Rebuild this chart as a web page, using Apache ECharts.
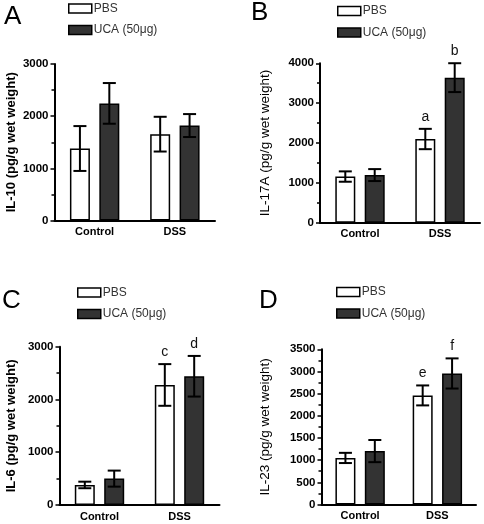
<!DOCTYPE html>
<html>
<head>
<meta charset="utf-8">
<script src="https://cdn.jsdelivr.net/npm/echarts@6/dist/echarts.min.js"></script>
<style>
html,body{margin:0;padding:0;background:#fff;}
#chart{width:484px;height:524px;}
</style>
</head>
<body>
<div id="chart"></div>
<script>
// ---- Data ----
const categories = ['Control', 'DSS'];
const seriesNames = ['PBS', 'UCA (50μg)'];

// Panel A: IL-10
const aPbs = [1380, 1655];
const aPbsErr = [430, 333];
const aUca = [2245, 1820];
const aUcaErr = [390, 220];
const aLettersPbs = ['', ''];
const aLettersUca = ['', ''];

// Panel B: IL-17A
const bPbs = [1158, 2100];
const bPbsErr = [130, 255];
const bUca = [1195, 3640];
const bUcaErr = [150, 362];
const bLettersPbs = ['', 'a'];
const bLettersUca = ['', 'b'];

// Panel C: IL-6
const cPbs = [380, 2275];
const cPbsErr = [62, 395];
const cUca = [500, 2440];
const cUcaErr = [152, 385];
const cLettersPbs = ['', 'c'];
const cLettersUca = ['', 'd'];

// Panel D: IL-23
const dPbs = [1050, 2460];
const dPbsErr = [115, 225];
const dUca = [1205, 2955];
const dUcaErr = [250, 340];
const dLettersPbs = ['', 'e'];
const dLettersUca = ['', 'f'];

// Axis ranges / tick steps
const yMax = [3000, 4000, 3000, 3500];
const yStep = [1000, 1000, 1000, 500];
const yTitles = ['IL-10 (pg/g wet weight)', 'IL-17A (pg/g wet weight)', 'IL-6 (pg/g wet weight)', 'IL-23 (pg/g wet weight)'];
const panelLabels = ['A', 'B', 'C', 'D'];

// ---- Layout ----
const FONT = 'Liberation Sans, Arial, Helvetica, sans-serif';
const grids = [
  {left: 54.5, top: 64, width: 160.5, height: 156.5},
  {left: 320, top: 63.3, width: 160, height: 159.4},
  {left: 59.5, top: 346.7, width: 160, height: 158.3},
  {left: 321.5, top: 349.3, width: 154.5, height: 155.2}
];
const titleBold = [true, false, true, false];
const titleSize = [13, 13.5, 13, 13.5];
const titleGap = [37, 48, 42, 49];
const legendPos = [
  {left: 68, top: 2.5},
  {left: 337, top: 5},
  {left: 77, top: 286.5},
  {left: 336, top: 286}
];
const letterPos = [
  {x: 4, y: 15}, {x: 251, y: 11}, {x: 2, y: 299}, {x: 259, y: 298.5}
];

const panels = [
  [aPbs, aPbsErr, aUca, aUcaErr, aLettersPbs, aLettersUca],
  [bPbs, bPbsErr, bUca, bUcaErr, bLettersPbs, bLettersUca],
  [cPbs, cPbsErr, cUca, cUcaErr, cLettersPbs, cLettersUca],
  [dPbs, dPbsErr, dUca, dUcaErr, dLettersPbs, dLettersUca]
];

const BAR_W = 20;
const BAR_GAP = 0.47; // fraction of bar width
const OFFSET = (BAR_W + BAR_W * BAR_GAP) / 2;
const CAP = 13;

function errorRender(params, api) {
  const c = api.value(0), m = api.value(1), e = api.value(2), g = api.value(3);
  const top = api.coord([c, m + e]);
  const bot = api.coord([c, m - e]);
  const x = top[0] + (g === 0 ? -OFFSET : OFFSET);
  const st = {stroke: '#000', lineWidth: 2};
  return {
    type: 'group',
    children: [
      {type: 'line', shape: {x1: x, y1: top[1], x2: x, y2: bot[1]}, style: st},
      {type: 'line', shape: {x1: x - CAP / 2, y1: top[1], x2: x + CAP / 2, y2: top[1]}, style: st},
      {type: 'line', shape: {x1: x - CAP / 2, y1: bot[1], x2: x + CAP / 2, y2: bot[1]}, style: st}
    ]
  };
}

const letterTexts = {};
function letterRender(params, api) {
  const c = api.value(0), m = api.value(1), e = api.value(2), g = api.value(3);
  const top = api.coord([c, m + e]);
  const x = top[0] + (g === 0 ? -OFFSET : OFFSET);
  return {
    type: 'text',
    style: {
      text: letterTexts[params.seriesIndex][params.dataIndex],
      x: x, y: top[1] - 12,
      textAlign: 'center', textVerticalAlign: 'middle',
      font: '14px ' + FONT, fill: '#111'
    }
  };
}

const option = {
  backgroundColor: '#fff',
  animation: false,
  grid: grids.map(g => Object.assign({containLabel: false}, g)),
  legend: [],
  xAxis: [],
  yAxis: [],
  series: [],
  graphic: []
};

panels.forEach((p, i) => {
  const [pbs, pbsErr, uca, ucaErr, lp, lu] = p;
  option.xAxis.push({
    type: 'category', gridIndex: i, data: categories,
    axisLine: {show: true, lineStyle: {color: '#000', width: 2}},
    axisTick: {show: false},
    axisLabel: {color: '#000', fontFamily: FONT, fontWeight: 'bold', fontSize: 11, margin: 6}
  });
  option.yAxis.push({
    type: 'value', gridIndex: i, min: 0, max: yMax[i], interval: yStep[i],
    name: yTitles[i], nameLocation: 'middle', nameGap: titleGap[i],
    nameTextStyle: {color: '#000', fontFamily: FONT, fontWeight: titleBold[i] ? 'bold' : 'normal', fontSize: titleSize[i]},
    axisLine: {show: true, lineStyle: {color: '#000', width: 2}},
    axisTick: {show: true, length: 4, lineStyle: {color: '#000', width: 1.5}},
    minorTick: {show: true, splitNumber: 2, length: 3, lineStyle: {color: '#000', width: 1.5}},
    splitLine: {show: false},
    axisLabel: {color: '#000', fontFamily: FONT, fontWeight: 'bold', fontSize: 11.5, margin: 6,
      formatter: v => String(v)}
  });
  option.series.push({
    name: seriesNames[0], type: 'bar', xAxisIndex: i, yAxisIndex: i,
    data: pbs, barWidth: BAR_W, barGap: (BAR_GAP * 100) + '%',
    itemStyle: {color: '#fff', borderColor: '#000', borderWidth: 1.5}
  });
  option.series.push({
    name: seriesNames[1], type: 'bar', xAxisIndex: i, yAxisIndex: i,
    data: uca, barWidth: BAR_W, barGap: (BAR_GAP * 100) + '%',
    itemStyle: {color: '#333333', borderColor: '#000', borderWidth: 1.5}
  });
  const errData = [];
  const letters = [];
  categories.forEach((c, k) => {
    errData.push([k, pbs[k], pbsErr[k], 0]);
    errData.push([k, uca[k], ucaErr[k], 1]);
    letters.push(lp[k]);
    letters.push(lu[k]);
  });
  option.series.push({
    type: 'custom', xAxisIndex: i, yAxisIndex: i, z: 5,
    renderItem: errorRender, data: errData, silent: true
  });
  letterTexts[option.series.length] = letters;
  option.series.push({
    type: 'custom', xAxisIndex: i, yAxisIndex: i, z: 6,
    renderItem: letterRender, data: errData, silent: true
  });
  option.legend.push({
    orient: 'vertical', left: legendPos[i].left, top: legendPos[i].top, padding: 0,
    itemWidth: 23, itemHeight: 9, itemGap: 9.5, icon: 'rect',
    data: seriesNames,
    itemStyle: {borderColor: '#000', borderWidth: 1.5},
    textStyle: {color: '#333', fontFamily: FONT, fontSize: 12, padding: [0, 0, 0, -3]},
    selectedMode: false
  });
  option.graphic.push({
    type: 'text', left: letterPos[i].x, top: letterPos[i].y - 11,
    style: {text: panelLabels[i], font: '26px ' + FONT, fill: '#000'}
  });
});

const chart = echarts.init(document.getElementById('chart'), null, {renderer: 'canvas'});
chart.setOption(option);
</script>
</body>
</html>
